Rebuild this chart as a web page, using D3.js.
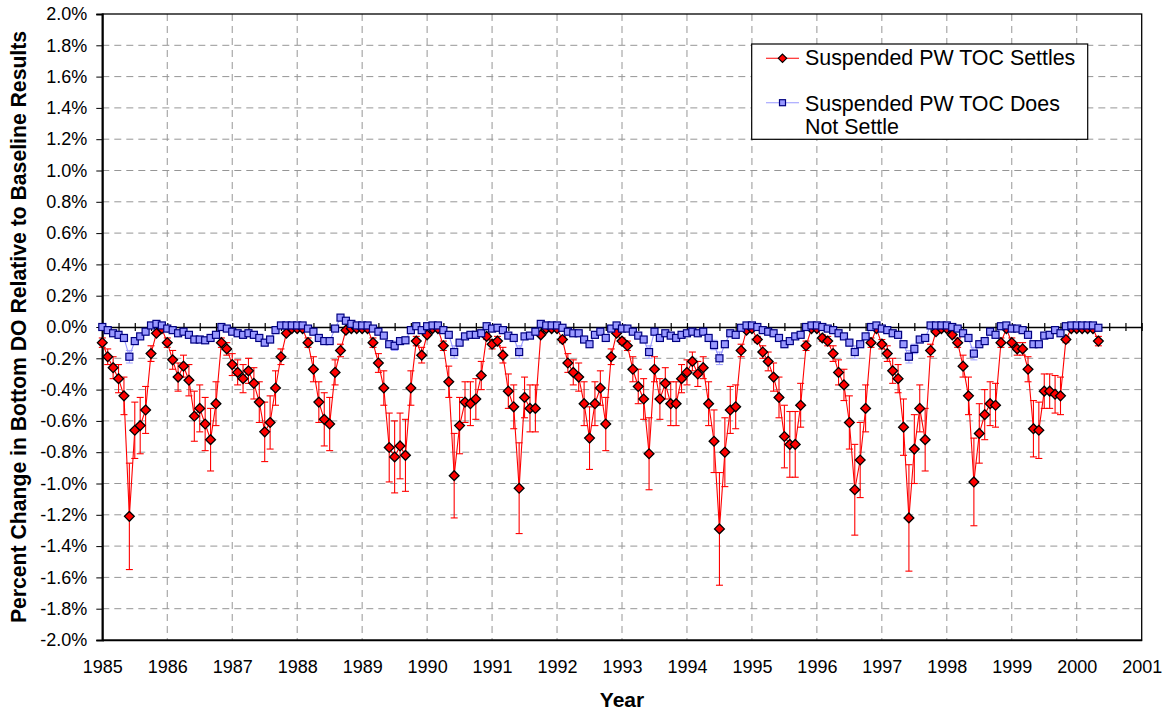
<!DOCTYPE html>
<html><head><meta charset="utf-8">
<script src="https://cdn.jsdelivr.net/npm/d3@7"></script>
<style>
body{margin:0;background:#fff;}
text{font-family:Arial,"Liberation Sans",Helvetica,sans-serif;fill:#000;}
</style>
</head><body>
<svg id="chart" width="1169" height="713"></svg>
<script>
// ---------- DATA (monthly, starting January 1985) ----------
const startYear = 1985;
const seriesNames = ["Suspended PW TOC Settles", "Suspended PW TOC Does Not Settle"];

const settles = [
  -0.10,-0.19,-0.26,-0.33,-0.44,-1.21,-0.66,-0.63,-0.53,-0.17,-0.04,-0.01, // 1985
  -0.10,-0.21,-0.32,-0.25,-0.34,-0.57,-0.52,-0.62,-0.72,-0.49,-0.10,-0.14, // 1986
  -0.24,-0.29,-0.33,-0.28,-0.36,-0.48,-0.67,-0.61,-0.39,-0.19,-0.04,-0.01, // 1987
  -0.01,-0.01,-0.10,-0.27,-0.48,-0.59,-0.62,-0.29,-0.15,-0.02,-0.01,-0.01, // 1988
  -0.01,-0.01,-0.10,-0.23,-0.39,-0.77,-0.83,-0.76,-0.82,-0.39,-0.09,-0.18, // 1989
  -0.05,-0.01,-0.01,-0.12,-0.35,-0.95,-0.63,-0.48,-0.49,-0.46,-0.31,-0.06, // 1990
  -0.11,-0.09,-0.18,-0.41,-0.51,-1.03,-0.45,-0.52,-0.52,-0.05,-0.01,-0.01, // 1991
  -0.01,-0.08,-0.23,-0.29,-0.32,-0.49,-0.71,-0.49,-0.39,-0.62,-0.19,-0.04, // 1992
  -0.09,-0.12,-0.27,-0.38,-0.46,-0.81,-0.27,-0.46,-0.36,-0.49,-0.49,-0.33, // 1993
  -0.29,-0.22,-0.30,-0.26,-0.49,-0.73,-1.29,-0.80,-0.53,-0.51,-0.15,-0.02, // 1994
  -0.01,-0.08,-0.16,-0.22,-0.32,-0.45,-0.70,-0.75,-0.75,-0.50,-0.12,-0.01, // 1995
  -0.01,-0.07,-0.09,-0.17,-0.29,-0.37,-0.61,-1.04,-0.85,-0.52,-0.10,-0.01, // 1996
  -0.11,-0.17,-0.28,-0.33,-0.64,-1.22,-0.78,-0.52,-0.72,-0.15,-0.03,-0.01, // 1997
  -0.01,-0.05,-0.10,-0.25,-0.44,-0.99,-0.68,-0.56,-0.49,-0.50,-0.10,-0.01, // 1998
  -0.10,-0.14,-0.14,-0.27,-0.65,-0.66,-0.41,-0.41,-0.43,-0.44,-0.08,-0.01, // 1999
  -0.01,-0.01,-0.01,-0.01,-0.09                                            // 2000
];
const settlesErr = [
  0.03,0.05,0.07,0.09,0.12,0.34,0.18,0.18,0.15,0.05,0.01,0,
  0.03,0.06,0.09,0.07,0.10,0.16,0.15,0.17,0.20,0.14,0.03,0.04,
  0.07,0.08,0.09,0.08,0.10,0.13,0.19,0.17,0.11,0.05,0.01,0,
  0,0,0.03,0.08,0.13,0.17,0.17,0.08,0.04,0.01,0,0,
  0,0,0.03,0.06,0.11,0.22,0.23,0.21,0.23,0.11,0.03,0.05,
  0.01,0,0,0.03,0.10,0.27,0.18,0.13,0.14,0.13,0.09,0.02,
  0.03,0.03,0.05,0.11,0.14,0.29,0.13,0.15,0.15,0.01,0,0,
  0,0.02,0.06,0.08,0.09,0.14,0.20,0.14,0.11,0.17,0.05,0.01,
  0.02,0.03,0.08,0.11,0.13,0.23,0.08,0.13,0.10,0.14,0.14,0.09,
  0.08,0.06,0.08,0.07,0.14,0.20,0.36,0.22,0.15,0.14,0.04,0.01,
  0,0.02,0.04,0.06,0.09,0.13,0.20,0.21,0.21,0.14,0.03,0,
  0,0.02,0.03,0.05,0.08,0.10,0.17,0.29,0.24,0.15,0.03,0,
  0.03,0.05,0.08,0.09,0.18,0.34,0.22,0.15,0.20,0.04,0.01,0,
  0,0.01,0.03,0.07,0.12,0.28,0.19,0.16,0.14,0.14,0.03,0,
  0.03,0.04,0.04,0.08,0.18,0.18,0.11,0.11,0.12,0.12,0.02,0,
  0,0,0,0,0.03
];
const noSettle = [
  0,-0.02,-0.04,-0.05,-0.07,-0.19,-0.09,-0.06,-0.03,0.01,0.02,0.01,
  -0.01,-0.02,-0.04,-0.03,-0.05,-0.08,-0.08,-0.085,-0.07,-0.05,0,-0.01,
  -0.03,-0.04,-0.05,-0.04,-0.05,-0.07,-0.10,-0.08,-0.02,0.01,0.01,0.01,
  0.01,0.01,-0.01,-0.03,-0.07,-0.09,-0.09,-0.01,0.06,0.04,0.02,0.01,
  0.01,0.01,-0.01,-0.03,-0.055,-0.11,-0.12,-0.09,-0.085,-0.02,0.005,-0.02,
  0.005,0.01,0.01,-0.02,-0.05,-0.16,-0.10,-0.06,-0.05,-0.05,-0.04,0.005,
  -0.01,-0.005,-0.02,-0.055,-0.07,-0.16,-0.06,-0.055,-0.03,0.02,0.01,0.01,
  0.01,-0.005,-0.03,-0.04,-0.04,-0.08,-0.11,-0.05,-0.03,-0.07,-0.01,0.01,
  -0.01,-0.01,-0.03,-0.055,-0.08,-0.16,-0.03,-0.07,-0.04,-0.055,-0.07,-0.05,
  -0.04,-0.03,-0.04,-0.03,-0.07,-0.115,-0.20,-0.11,-0.04,-0.05,-0.005,0.01,
  0.01,0,-0.02,-0.03,-0.04,-0.07,-0.11,-0.09,-0.06,-0.05,0,0.01,
  0.01,0,-0.01,-0.02,-0.04,-0.06,-0.10,-0.16,-0.11,-0.06,0,0.01,
  -0.01,-0.02,-0.04,-0.05,-0.11,-0.19,-0.14,-0.08,-0.07,0.01,0.01,0.01,
  0.01,0,-0.01,-0.04,-0.07,-0.17,-0.11,-0.09,-0.03,-0.05,0.005,0.01,
  -0.01,-0.01,-0.02,-0.05,-0.11,-0.11,-0.055,-0.05,-0.02,-0.04,0.005,0.01,
  0.01,0.01,0.01,0.01,-0.005
];
const noSettleErr = [
  0,0,0.01,0.01,0.02,0.04,0.02,0.01,0.01,0,0,0,
  0,0,0.01,0.01,0.01,0.02,0.02,0.02,0.02,0.01,0,0,
  0.01,0.01,0.01,0.01,0.01,0.02,0.02,0.02,0,0,0,0,
  0,0,0,0.01,0.02,0.02,0.02,0,0.01,0.01,0,0,
  0,0,0,0.01,0.01,0.02,0.03,0.02,0.02,0,0,0,
  0,0,0,0,0.01,0.04,0.02,0.01,0.01,0.01,0.01,0,
  0,0,0,0.01,0.02,0.04,0.01,0.01,0.01,0,0,0,
  0,0,0.01,0.01,0.01,0.02,0.02,0.01,0.01,0.02,0,0,
  0,0,0.01,0.01,0.02,0.04,0.01,0.02,0.01,0.01,0.02,0.01,
  0.01,0.01,0.01,0.01,0.02,0.03,0.04,0.02,0.01,0.01,0,0,
  0,0,0,0.01,0.01,0.02,0.02,0.02,0.01,0.01,0,0,
  0,0,0,0,0.01,0.01,0.02,0.04,0.02,0.01,0,0,
  0,0,0.01,0.01,0.02,0.04,0.03,0.02,0.02,0,0,0,
  0,0,0,0.01,0.02,0.04,0.02,0.02,0.01,0.01,0,0,
  0,0,0,0.01,0.02,0.02,0.01,0.01,0,0.01,0,0,
  0,0,0,0,0
];
const xTickYears = [1985,1986,1987,1988,1989,1990,1991,1992,1993,1994,1995,1996,1997,1998,1999,2000,2001];
const yTickValues = [-2.0,-1.8,-1.6,-1.4,-1.2,-1.0,-0.8,-0.6,-0.4,-0.2,0.0,0.2,0.4,0.6,0.8,1.0,1.2,1.4,1.6,1.8,2.0];
const xTitle = "Year";
const yTitle = "Percent Change in Bottom DO Relative to Baseline Results";

// ---------- CHART ----------
const svg = d3.select("#chart");
const L = 102.3, R = 1141.7, T = 14, B = 640;
const x = d3.scaleLinear().domain([1985, 2001]).range([L, R]);
const y = d3.scaleLinear().domain([-2, 2]).range([B, T]);

const RED = "#ff0000", BLUE_LINE = "#9999ff", BLUE_FILL = "#9999ff", BLUE_EDGE = "#000080", BLUE_ERR = "#a6a6ff";

// grid
const grid = svg.append("g");
grid.selectAll("line.h").data(yTickValues.filter(v => Math.abs(v) < 1.99 && Math.abs(v) > 0.001))
  .join("line").attr("x1", L).attr("x2", R).attr("y1", d => y(d)).attr("y2", d => y(d))
  .attr("stroke", "#969696").attr("stroke-width", 1).attr("stroke-dasharray", "7,5");
grid.selectAll("line.v").data(xTickYears.slice(1, -1))
  .join("line").attr("x1", d => x(d)).attr("x2", d => x(d)).attr("y1", T).attr("y2", B)
  .attr("stroke", "#969696").attr("stroke-width", 1).attr("stroke-dasharray", "7,5");

// plot border
svg.append("rect").attr("x", L).attr("y", T).attr("width", R - L).attr("height", B - T)
  .attr("fill", "none").attr("stroke", "#000").attr("stroke-width", 1.3);

// y axis
const yAxis = d3.axisLeft(y).tickValues(yTickValues).tickFormat(d => d.toFixed(1) + "%").tickSize(6).tickPadding(9);
const gy = svg.append("g").attr("transform", `translate(${L},0)`).call(yAxis);
gy.select(".domain").attr("stroke", "#000").attr("stroke-width", 2);
gy.selectAll("text").attr("font-size", 18).attr("font-family", "Arial, 'Liberation Sans', sans-serif");

// x axis labels at bottom
const xAxis = d3.axisBottom(x).tickValues(xTickYears).tickFormat(d3.format("d")).tickSize(0).tickPadding(20.5);
const gx = svg.append("g").attr("transform", `translate(0,${B})`).call(xAxis);
gx.select(".domain").attr("stroke", "#000").attr("stroke-width", 1.3);
gx.selectAll("text").attr("font-size", 18).attr("font-family", "Arial, 'Liberation Sans', sans-serif");

// zero line with quarter-year crossing ticks
const y0 = y(0);
const zeroAxis = d3.axisBottom(x).tickValues(d3.range(1985, 2001.001, 0.25)).tickSizeInner(4).tickSizeOuter(0).tickFormat("");
const gz = svg.append("g").attr("transform", `translate(0,${y0})`).call(zeroAxis);
gz.select(".domain").attr("stroke", "#000").attr("stroke-width", 1.5);
gz.selectAll(".tick line").attr("y1", -4).attr("y2", 4).attr("stroke", "#000").attr("stroke-width", 1.2);

// series helpers
const date = i => startYear + i / 12;
const DR = 4.9, SQ = 7;
function drawSeries(vals, errs, opt) {
  const g = svg.append("g");
  const pts = vals.map((v, i) => ({ t: date(i), v, e: errs[i] }));
  const eb = g.append("g").attr("stroke", opt.errColor).attr("stroke-width", 1.1);
  pts.filter(d => d.e > 0).forEach(d => {
    const cx = x(d.t), ylo = y(d.v - d.e), yhi = y(d.v + d.e);
    eb.append("line").attr("x1", cx).attr("x2", cx).attr("y1", yhi).attr("y2", ylo);
    eb.append("line").attr("x1", cx - 3.5).attr("x2", cx + 3.5).attr("y1", yhi).attr("y2", yhi);
    eb.append("line").attr("x1", cx - 3.5).attr("x2", cx + 3.5).attr("y1", ylo).attr("y2", ylo);
  });
  g.append("path").datum(pts)
    .attr("d", d3.line().x(d => x(d.t)).y(d => y(d.v)))
    .attr("fill", "none").attr("stroke", opt.lineColor).attr("stroke-width", 1.1);
  const m = g.append("g");
  if (opt.marker === "diamond") {
    m.selectAll("path").data(pts).join("path")
      .attr("d", d => { const cx = x(d.t), cy = y(d.v), r = DR; return `M${cx},${cy - r}L${cx + r},${cy}L${cx},${cy + r}L${cx - r},${cy}Z`; })
      .attr("fill", opt.fill).attr("stroke", opt.edge).attr("stroke-width", 1.3);
  } else {
    m.selectAll("rect").data(pts).join("rect")
      .attr("x", d => x(d.t) - SQ / 2).attr("y", d => y(d.v) - SQ / 2).attr("width", SQ).attr("height", SQ)
      .attr("fill", opt.fill).attr("stroke", opt.edge).attr("stroke-width", 1.2);
  }
}
drawSeries(settles, settlesErr, { lineColor: RED, errColor: RED, fill: RED, edge: "#000", marker: "diamond" });
drawSeries(noSettle, noSettleErr, { lineColor: BLUE_LINE, errColor: BLUE_ERR, fill: BLUE_FILL, edge: BLUE_EDGE, marker: "square" });

// legend
const lg = svg.append("g");
lg.append("rect").attr("x", 751.7).attr("y", 44).attr("width", 336).attr("height", 95.3)
  .attr("fill", "#fff").attr("stroke", "#000").attr("stroke-width", 1.2);
const lx1 = 766, lx2 = 799, lmx = 782.5;
lg.append("line").attr("x1", lx1).attr("x2", lx2).attr("y1", 58.3).attr("y2", 58.3).attr("stroke", RED).attr("stroke-width", 1.1);
lg.append("path").attr("d", `M${lmx},${58.3 - 4.2}L${lmx + 4.2},58.3L${lmx},${58.3 + 4.2}L${lmx - 4.2},58.3Z`)
  .attr("fill", RED).attr("stroke", "#000").attr("stroke-width", 1.2);
lg.append("text").attr("x", 805).attr("y", 65).attr("font-size", 21.4).text(seriesNames[0]);
lg.append("line").attr("x1", lx1).attr("x2", lx2).attr("y1", 102.7).attr("y2", 102.7).attr("stroke", BLUE_LINE).attr("stroke-width", 1.1);
lg.append("rect").attr("x", lmx - 3).attr("y", 102.7 - 3).attr("width", 6).attr("height", 6)
  .attr("fill", BLUE_FILL).attr("stroke", BLUE_EDGE).attr("stroke-width", 1.2);
const t2 = lg.append("text").attr("font-size", 21.4);
t2.append("tspan").attr("x", 805).attr("y", 110.5).text("Suspended PW TOC Does");
t2.append("tspan").attr("x", 805).attr("y", 133.5).text("Not Settle");

// axis titles
svg.append("text").attr("x", (L + R) / 2).attr("y", 707).attr("text-anchor", "middle")
  .attr("font-size", 21).attr("font-weight", "bold").text(xTitle);
svg.append("text").attr("transform", `translate(26,${(T + B) / 2}) rotate(-90)`).attr("text-anchor", "middle")
  .attr("font-size", 21.2).attr("font-weight", "bold").text(yTitle);
</script>
</body></html>
